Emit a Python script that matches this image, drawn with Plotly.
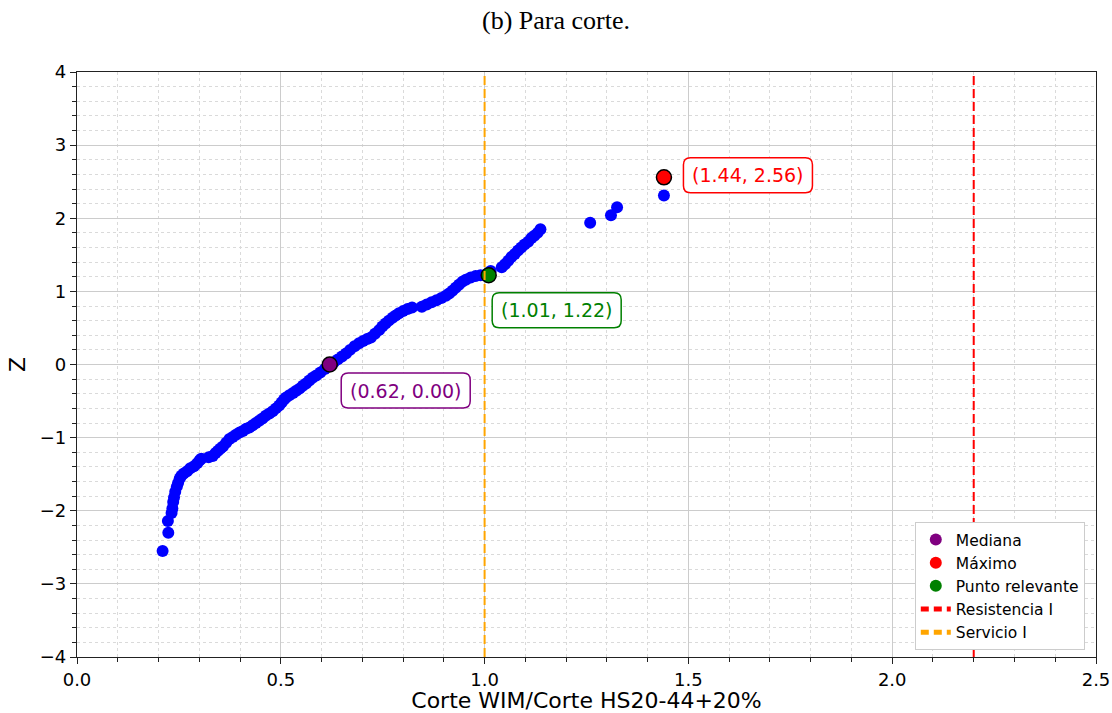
import plotly.graph_objects as go

# ---- data ----
pts = [
    (0.210, -2.55), (0.224, -2.30), (0.223, -2.14), (0.232, -2.03), (0.234, -1.97),
    (0.236, -1.88), (0.238, -1.82), (0.241, -1.74), (0.245, -1.67), (0.248, -1.62),
    (0.252, -1.56), (0.256, -1.52), (0.262, -1.49), (0.270, -1.46), (0.278, -1.42),
    (0.287, -1.39), (0.295, -1.35), (0.301, -1.31), (0.305, -1.29), (0.323, -1.27),
    (0.333, -1.25), (0.340, -1.21), (0.346, -1.18), (0.352, -1.15), (0.358, -1.12),
    (0.366, -1.07), (0.374, -1.02), (0.382, -0.99), (0.390, -0.96), (0.399, -0.93),
    (0.407, -0.91), (0.415, -0.88), (0.423, -0.86), (0.431, -0.83), (0.439, -0.80),
    (0.447, -0.77), (0.455, -0.74), (0.463, -0.70), (0.472, -0.67), (0.480, -0.64),
    (0.488, -0.60), (0.496, -0.56), (0.502, -0.52), (0.508, -0.48), (0.513, -0.45),
    (0.521, -0.42), (0.530, -0.39), (0.538, -0.36), (0.546, -0.33), (0.554, -0.29),
    (0.562, -0.26), (0.570, -0.22), (0.578, -0.18), (0.587, -0.15), (0.597, -0.11),
    (0.608, -0.06), (0.619, -0.02), (0.630, 0.03), (0.640, 0.07), (0.650, 0.11),
    (0.660, 0.15), (0.670, 0.20), (0.681, 0.25), (0.692, 0.29), (0.702, 0.32),
    (0.712, 0.35), (0.721, 0.37), (0.731, 0.42), (0.741, 0.47), (0.749, 0.52),
    (0.757, 0.56), (0.765, 0.60), (0.774, 0.64), (0.782, 0.67), (0.790, 0.70),
    (0.800, 0.73), (0.811, 0.76), (0.822, 0.78), (0.846, 0.79), (0.858, 0.82),
    (0.870, 0.85), (0.882, 0.88), (0.894, 0.91), (0.905, 0.94), (0.913, 0.97),
    (0.921, 1.01), (0.929, 1.05), (0.937, 1.09), (0.945, 1.13), (0.954, 1.16),
    (0.966, 1.19), (0.978, 1.21), (0.990, 1.22), (1.003, 1.22), (1.015, 1.28),
    (1.042, 1.33), (1.050, 1.37), (1.058, 1.42), (1.066, 1.47), (1.074, 1.51),
    (1.082, 1.56), (1.090, 1.60), (1.098, 1.64), (1.107, 1.68), (1.115, 1.73),
    (1.122, 1.76), (1.130, 1.80), (1.137, 1.85), (1.259, 1.94), (1.310, 2.04),
    (1.325, 2.15), (1.440, 2.31),
]
ratio = [p[0] for p in pts]
zval = [p[1] for p in pts]

median_pt = (0.62, 0.00)
max_pt = (1.44, 2.56)
relevant_pt = (1.01, 1.22)
resistencia_x = 2.2
servicio_x = 1.0

x_ticks = [0.0, 0.5, 1.0, 1.5, 2.0, 2.5]
y_ticks = [-4, -3, -2, -1, 0, 1, 2, 3, 4]

FONT = "DejaVu Sans, sans-serif"
DASH = "9px,4px"

fig = go.Figure()

fig.add_trace(go.Scatter(
    x=ratio, y=zval, mode="markers",
    marker=dict(color="#0000FF", size=12, line=dict(width=0)),
    showlegend=False, hoverinfo="skip",
))

specials = [
    ("Mediana", median_pt, "#800080"),
    ("Máximo", max_pt, "#FF0000"),
    ("Punto relevante", relevant_pt, "#008000"),
]
for name, (px, py), col in specials:
    fig.add_trace(go.Scatter(
        x=[px], y=[py], mode="markers", name=name,
        marker=dict(color=col, size=15, line=dict(color="black", width=1.5)),
        showlegend=False,
    ))
    fig.add_trace(go.Scatter(
        x=[None], y=[None], mode="markers", name=name,
        marker=dict(color=col, size=14),
    ))

for name, xv, col in [("Resistencia I", resistencia_x, "#FF0000"), ("Servicio I", servicio_x, "#FFA500")]:
    fig.add_trace(go.Scatter(
        x=[xv, xv], y=[-4, 4], mode="lines", name=name,
        line=dict(color=col, width=2, dash=DASH),
        showlegend=False, hoverinfo="skip",
    ))
    fig.add_trace(go.Scatter(
        x=[None], y=[None], mode="lines", name=name,
        line=dict(color=col, width=2.5, dash="8px,5px"),
    ))


def rounded_box(w, h, r, dx, dy):
    x0, x1 = -w / 2 + dx, w / 2 + dx
    y0, y1 = -h / 2 + dy, h / 2 + dy
    return (f"M{x0+r},{y0} L{x1-r},{y0} Q{x1},{y0} {x1},{y0+r} "
            f"L{x1},{y1-r} Q{x1},{y1} {x1-r},{y1} L{x0+r},{y1} Q{x0},{y1} {x0},{y1-r} "
            f"L{x0},{y0+r} Q{x0},{y0} {x0+r},{y0} Z")


labels = [
    (median_pt, "#800080", 76, -26),
    (max_pt, "#FF0000", 84, 2),
    (relevant_pt, "#008000", 68, -35),
]
for (px, py), col, dx, dy in labels:
    fig.add_shape(
        type="path", xref="x", yref="y",
        xsizemode="pixel", ysizemode="pixel",
        xanchor=px, yanchor=py,
        path=rounded_box(129, 35, 7, dx, dy),
        line=dict(color=col, width=1.5),
        fillcolor="white", layer="above",
    )
    fig.add_annotation(
        x=px, y=py, xref="x", yref="y", showarrow=False,
        text=f"({px:.2f}, {py:.2f})",
        font=dict(family=FONT, size=19, color=col),
        xshift=dx, yshift=dy,
    )

axis_common = dict(
    showline=True, linecolor="#222222", linewidth=1.2, mirror=True,
    ticks="outside", ticklen=6, tickwidth=1.2, tickcolor="#222222",
    showgrid=True, gridcolor="#cccccc", gridwidth=1,
    zeroline=False, automargin=False,
    tickfont=dict(family=FONT, size=18, color="black"),
)

fig.update_xaxes(
    range=[0, 2.5], tickvals=x_ticks, tickformat=".1f",
    title=dict(text="Corte WIM/Corte HS20-44+20%", font=dict(family=FONT, size=22, color="black"), standoff=4),
    minor=dict(dtick=0.1, tick0=0, ticks="outside", ticklen=3.5, tickcolor="#222222",
               showgrid=True, gridcolor="#dadada", griddash="dot", gridwidth=1),
    **axis_common,
)
fig.update_yaxes(
    range=[-4, 4], tickvals=y_ticks,
    title=dict(text="Z", font=dict(family=FONT, size=22, color="black"), standoff=8),
    minor=dict(dtick=0.2, tick0=0, ticks="outside", ticklen=3.5, tickcolor="#222222",
               showgrid=True, gridcolor="#dadada", griddash="dot", gridwidth=1),
    **axis_common,
)

fig.update_layout(
    width=1112, height=713,
    margin=dict(l=77, r=16, t=72, b=56),
    paper_bgcolor="white", plot_bgcolor="white",
    title=dict(text="(b) Para corte.", x=0.5, xanchor="center", y=0.972, yanchor="middle",
               font=dict(family="Liberation Serif, Times New Roman, serif", size=26, color="black")),
    legend=dict(
        x=0.989, y=0.012, xanchor="right", yanchor="bottom",
        bgcolor="white", bordercolor="#cccccc", borderwidth=1,
        font=dict(family=FONT, size=15.5, color="black"),
        itemsizing="constant", tracegroupgap=0,
    ),
    showlegend=True,
)

fig.write_html("out.html")
